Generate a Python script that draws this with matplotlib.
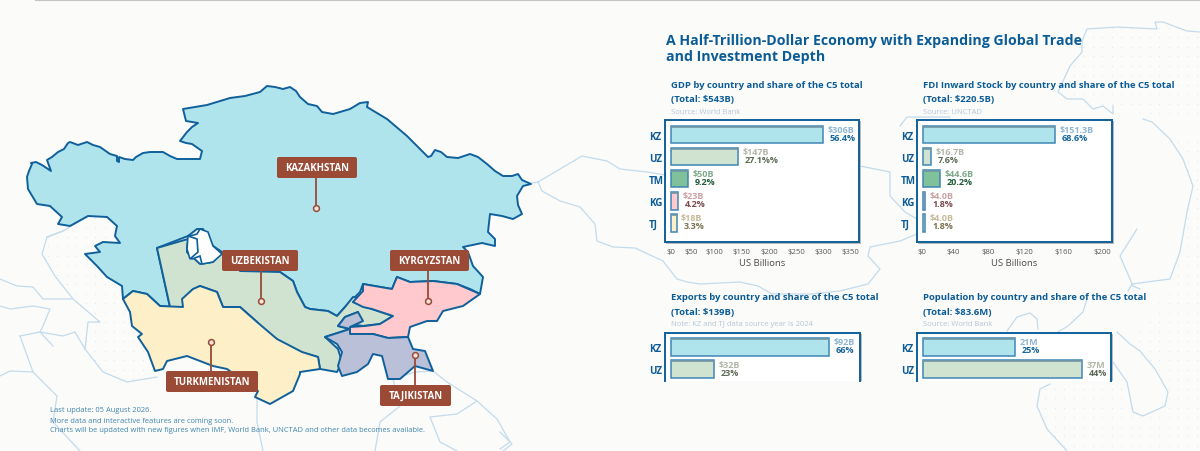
import numpy as np
import matplotlib
matplotlib.use("Agg")
import matplotlib.pyplot as plt
from matplotlib.patches import Polygon, FancyBboxPatch, Rectangle

plt.rcParams['font.family'] = ['Open Sans', 'DejaVu Sans']

BG = '#fbfbfa'
EDGE = '#0f609b'
NAVY = '#0b5c96'
LINE = '#c3dbeb'
BROWN = '#9a4a35'

codes = ['KZ', 'UZ', 'TM', 'KG', 'TJ']
fills = ['#afe4ec', '#d0e2d0', '#80c09a', '#ffc9ce', '#fdf0c8']
tints = ['#8fb6d3', '#b2b7aa', '#7fa98c', '#cba3a3', '#c6ba9b']
darks = ['#14659c', '#5d6a55', '#1f5c38', '#7a4a52', '#7a7350']

gdp_bar = [298, 131, 33, 13, 11]
gdp_value = ['$306B', '$147B', '$50B', '$23B', '$18B']
gdp_share = ['56.4%', '27.1%%', '9.2%', '4.2%', '3.3%']
gdp_ticks = [-1, 39, 86, 139, 192, 245, 298, 351]
gdp_ticklabels = ['$0', '$50', '$100', '$150', '$200', '$250', '$300', '$350']

fdi_bar = [146.7, 8.5, 18.5, 2.5, 2.5]
fdi_value = ['$151.3B', '$16.7B', '$44.6B', '$4.0B', '$4.0B']
fdi_share = ['68.6%', '7.6%', '20.2%', '1.8%', '1.8%']
fdi_ticks = [-1, 34, 72, 113, 156, 199]
fdi_ticklabels = ['$0', '$40', '$80', '$120', '$160', '$200']

exp_bar = [92, 25]
exp_value = ['$92B', '$32B']
exp_share = ['66%', '23%']

pop_bar = [21, 36.3]
pop_value = ['21M', '37M']
pop_share = ['25%', '44%']

# map geometry, in image pixels
kazakhstan = [(27,178),(29,172),(32,165),(31,164),(36,163),(42,166),(51,172),(47,161),(52,158),(58,153),(64,150),(68,144),(70,143),(78,146),(87,143),
 (93,146),(100,148),(110,155),(117,157),(117,162),(119,163),(119,158),(125,160),(133,161),(136,158),(143,154),(150,153),(163,153),(170,157),(177,160),
 (190,160),(200,160),(202,152),(192,145),(186,144),(180,142),(187,133),(192,128),(198,124),(186,122),(185,118),(183,110),(207,106),(230,99),(245,97),(260,93),
 (267,87),(275,88),(283,90),(290,88),(296,92),(300,98),(308,105),(317,107),(322,113),(333,115),(340,113),(350,110),(360,104),(368,103),(367,108),(387,120),(407,137),
 (420,150),(428,158),(431,157),(435,151),(441,153),(447,158),(458,159),(470,155),(478,158),(487,165),(495,172),(503,177),(512,177),(518,175),(522,181),(531,185),(523,187),(517,197),(518,206),(522,215),(513,220),
 (502,217),(490,215),(488,233),(495,240),(495,247),(482,244),(463,248),(468,253),(473,267),(483,278),(480,295),(470,290),(457,285),(433,282),
 (410,283),(397,278),(392,290),(363,285),(360,293),(345,308),(337,317),(328,312),(310,310),(305,308),(297,293),(293,282),(280,273),
 (240,272),(222,253),(213,247),(203,230),(197,230),(188,237),(157,249),(170,308),(160,307),(147,295),(133,292),
 (123,300),(122,287),(107,278),(97,267),(85,255),(100,253),(95,247),(103,243),(120,244),(115,237),(117,227),(107,218),
 (88,217),(70,227),(58,225),(62,218),(50,207),(37,205),(28,190)]
uzbekistan = [(157,249),(188,240),(187,253),(200,265),(213,263),(222,253),(240,272),(280,273),(293,282),(297,293),
 (305,308),(310,310),(328,312),(337,317),(345,308),(353,298),(363,300),(353,303),(372,310),(393,317),(380,325),(363,327),(350,325),
 (358,313),(345,318),(338,327),(350,330),(325,338),(338,350),(342,363),(337,373),(320,370),(318,358),(300,353),
 (277,347),(257,323),(240,308),(223,308),(217,293),(200,287),(192,291),(183,300),(183,308),(170,308)]
turkmenistan = [(123,300),(133,292),(147,295),(160,307),(183,308),(182,300),(193,290),(200,287),(217,293),(223,308),
 (240,308),(257,323),(277,340),(302,353),(318,358),(320,370),(300,373),(300,375),(293,392),(270,405),(255,398),
 (258,392),(227,370),(213,367),(187,357),(167,362),(163,370),(155,372),(148,353),(138,338),(142,335),(132,327),
 (130,313)]
kyrgyzstan = [(363,285),(392,290),(397,278),(410,283),(433,282),(457,285),(480,295),(463,307),(443,312),(437,322),
 (427,322),(410,328),(408,338),(388,339),(373,335),(350,335),(350,328),(365,327),(380,325),(393,317),(372,310),
 (363,308),(353,303),(363,292)]
tajikistan = [(325,338),(350,330),(338,327),(345,318),(358,313),(363,322),(350,328),(350,335),(373,335),(388,339),
 (408,338),(413,350),(425,352),(433,372),(415,367),(400,380),(388,380),(382,357),(373,355),(368,365),(357,373),
 (342,377),(338,367),(342,353),(337,345)]
aral_water = [(188,240),(187,253),(192,260),(200,257),(202,265),(213,263),(222,255),(213,247),(208,233),(200,230),
 (197,235),(190,237)]
aral_west = [(188,237),(197,240),(198,253),(190,260),(187,250)]

caspian_outline = [(63,232),(47,238),(42,255),(55,277),(73,300),(100,323),(88,323),(85,350),(103,373),(127,383),(157,378)]
caspian_area = [(63,232),(88,217),(107,218),(117,227),(115,237),(120,244),(95,247),(100,253),(85,255),(97,267),(107,278),
 (122,287),(123,300),(132,327),(142,335),(148,353),(157,378),(127,383),(103,373),(85,350),(88,323),(100,323),
 (73,300),(55,277),(42,255),(47,238)]
north_sea_area = [(1082,30),(1117,28),(1155,23),(1200,33),(1200,117),(1143,117),(1113,107),(1093,105),(1058,93),(1070,67),(1082,53)]
south_sea_area = [(1170,140),(1200,140),(1200,452),(1067,452),(1047,430),(1037,407),(1040,390),(1113,363),(1127,383),
 (1133,413),(1143,417),(1165,407),(1168,393),(1155,370),(1140,352),(1130,345),(1175,283),(1187,213),(1193,187),(1183,160)]

back_lines = [
 [(532,184),(538,183),(555,173),(582,157),(607,162),(620,170),(647,173),(665,176)],
 [(538,183),(542,192),(560,202),(580,208),(595,225),(597,242),(613,248),(635,249),(663,262),(677,280),(687,283),
  (700,285),(740,283),(758,287),(772,295),(811,295),(840,292),(868,285),(880,270),(868,257),(870,248),(900,242),(917,235)],
 [(860,167),(890,173),(890,197),(905,213),(917,220)],
 [(1200,33),(1187,32),(1163,23),(1155,23),(1157,30),(1117,28),(1087,30),(1082,42),(1082,53),(1070,67),(1058,93),
  (1067,100),(1083,100),(1093,110),(1103,107),(1113,115),(1113,107)],
 [(1143,120),(1152,123),(1170,140),(1183,160),(1193,187),(1187,213),(1180,253),(1170,280),(1147,283),(1132,285),(1128,292)],
 [(1137,230),(1120,257),(1127,273),(1133,287),(1140,290)],
 [(1117,333),(1130,345),(1140,352),(1155,370),(1168,393),(1165,407),(1143,417),(1133,413),(1127,383),(1113,363)],
 [(1050,385),(1040,390),(1037,407),(1047,430),(1067,452)],
 [(1087,300),(1083,313),(1068,327),(1058,333)],
 [(1007,332),(1017,318),(1030,314),(1037,320),(1038,330)],
 [(47,238),(63,232),(88,217)],
 caspian_outline,
 [(0,280),(17,287),(33,288),(43,300),(72,300)],
 [(0,307),(10,310),(33,307),(50,310),(43,327),(40,333),(53,347)],
 [(20,337),(33,373),(57,397),(53,423),(80,452)],
 [(0,377),(10,372),(33,373)],
 [(20,337),(40,333),(63,337),(75,333),(85,350)],
 [(257,400),(257,423),(263,452)],
 [(393,380),(415,373),(433,372),(447,383),(477,402),(497,420),(510,443),(500,450)],
 [(477,402),(457,415),(430,418),(440,443),(457,452)],
 [(393,380),(400,407),(380,423),(375,452)],
 [(500,433),(512,445),(503,452)],
 [(900,127),(907,118),(950,118)],
]

names = ['KAZAKHSTAN', 'UZBEKISTAN', 'KYRGYZSTAN', 'TURKMENISTAN', 'TAJIKISTAN']
tag_boxes = [(277,158,80,21), (222,251,76,21), (390,251,79,21), (166,372,92,21), (380,386,71,21)]
tag_pins = [(315.5,208.5), (260.5,301.5), (428,301.5), (211,342.5), (415,356)]

title_lines = ['A Half-Trillion-Dollar Economy with Expanding Global Trade', 'and Investment Depth']
foot_lines = ['Last update: 05 August 2026.', 'More data and interactive features are coming soon.',
              'Charts will be updated with new figures when IMF, World Bank, UNCTAD and other data becomes available.']

fig = plt.figure(figsize=(12, 4.52), dpi=100, facecolor=BG)
ax = fig.add_axes([0, 0, 1, 1])
ax.set_xlim(0, 1200)
ax.set_ylim(452, 0)
ax.axis('off')

ax.plot([36, 1200], [0.5, 0.5], color='#c4c4c4', lw=1.5, zorder=1)

gx, gy = np.meshgrid(np.arange(0, 1200, 9.5), np.arange(0, 452, 9.5))
for area in (caspian_area, north_sea_area, south_sea_area):
    clip = Polygon(area, closed=True, transform=ax.transData, fc='none', ec='none')
    ax.add_patch(clip)
    dots = ax.scatter(gx.ravel(), gy.ravel(), s=0.8, color='#e3e9ee', lw=0, zorder=1)
    dots.set_clip_path(clip)

for line in back_lines:
    xs, ys = zip(*line)
    ax.plot(xs, ys, color=LINE, lw=0.9, zorder=2, solid_joinstyle='round')

for poly, col in [(kazakhstan, '#afe4ec'), (uzbekistan, '#d0e2d0'), (turkmenistan, '#fdf0c8'),
                  (kyrgyzstan, '#ffc9ce'), (tajikistan, '#b9c0d8')]:
    ax.add_patch(Polygon(poly, closed=True, fc=col, ec=EDGE, lw=1.4, joinstyle='round', zorder=3))
ax.add_patch(Polygon(aral_water, closed=True, fc='white', ec=EDGE, lw=1.2, zorder=4))
ax.add_patch(Polygon(aral_west, closed=True, fc='white', ec=EDGE, lw=1.2, zorder=4))

for name, (x, y, w, h), (px, py) in zip(names, tag_boxes, tag_pins):
    ax.plot([px, px], [py, y + h / 2], color=BROWN, lw=1.3, zorder=5)
    ax.plot([px], [py], 'o', ms=4.2, mfc='#f4e4dc', mec=BROWN, mew=1.1, zorder=6)
    ax.add_patch(FancyBboxPatch((x + 1, y + 1), w - 2, h - 2, boxstyle='round,pad=1,rounding_size=2',
                                fc=BROWN, ec='none', zorder=7))
    ax.text(x + w / 2, y + h / 2, name, color='white', fontweight='bold', fontsize=6.9,
            ha='center', va='center', zorder=8)

for yy, s in zip((40.5, 56.5), title_lines):
    ax.text(666, yy, s, color=NAVY, fontweight='bold', fontsize=10.15, va='center', zorder=9)
for yy, s in zip((411, 421.5, 431), foot_lines):
    ax.text(50, yy, s, color='#3f86ae', fontsize=5.43, va='center', zorder=9)


def panel(x0, x1, y0, y1, zero_px, px_per_unit, center0, bars, values, shares, ticks=None, ticklabels=None,
          xlabel=None, closed=True, head=(), note=''):
    a = fig.add_axes([x0 / 1200, 1 - y1 / 452, (x1 - x0) / 1200, (y1 - y0) / 452], zorder=5)
    ax.add_patch(Rectangle((x0 + 1, y0 + 1), x1 - x0 + 0.8, y1 - y0 + (0.8 if closed else -1),
                           fc='#b9b9b9', ec='none', zorder=4.5))
    a.set_facecolor('white')
    a.set_xlim((x0 - zero_px) / px_per_unit, (x1 - zero_px) / px_per_unit)
    a.set_ylim((y1 - center0) / 22.1, (y0 - center0) / 22.1)
    ys = np.arange(len(bars))
    a.barh(ys, bars, height=0.79, color=fills[:len(bars)], edgecolor='#3f86b5', linewidth=1.1, zorder=2)
    for i, b in enumerate(bars):
        a.plot([0, b], [i - 0.36, i - 0.36], color='#6f96a4', lw=1.2, solid_capstyle='butt', zorder=3)
        a.annotate(values[i], (b, i), xytext=(4.5, 5), textcoords='offset pixels', color=tints[i],
                   fontweight='bold', fontsize=6.5, va='center', ha='left', zorder=4, annotation_clip=False)
        a.annotate(shares[i], (b, i), xytext=(7, -3), textcoords='offset pixels', color=darks[i],
                   fontweight='bold', fontsize=6.5, va='center', ha='left', zorder=4, annotation_clip=False)
    a.set_yticks(ys)
    a.set_yticklabels(codes[:len(bars)], color=NAVY, fontweight='bold', fontsize=7.0, ha='left')
    a.tick_params(axis='y', length=0, pad=11.5)
    if ticks is not None:
        a.set_xticks(ticks)
        a.set_xticklabels(ticklabels, color='#5a5a55', fontsize=5.6)
        a.tick_params(axis='x', length=0, pad=4.5)
    else:
        a.set_xticks([])
    if xlabel:
        a.set_xlabel(xlabel, color='#4f4a48', fontsize=6.8, labelpad=2.0)
    for side, sp in a.spines.items():
        sp.set_color(EDGE)
        sp.set_linewidth(1.4)
    if not closed:
        a.spines['bottom'].set_visible(False)
    tx = zero_px
    ty = y0 - 35.5
    ax.text(tx, ty, head[0], color=NAVY, fontweight='bold', fontsize=6.8, va='center', zorder=9)
    ax.text(tx, ty + 14.5, head[1], color=NAVY, fontweight='bold', fontsize=6.8, va='center', zorder=9)
    ax.text(tx, ty + 27, note, color='#b3c7d8', fontsize=5.5, va='center', zorder=9)
    return a


panel(665, 859, 120.5, 243, 671, 0.51, 135.5, gdp_bar, gdp_value, gdp_share, gdp_ticks, gdp_ticklabels, 'US Billions',
      head=('GDP by country and share of the C5 total', '(Total: $543B)'), note='Source: World Bank')
panel(917, 1112, 120.5, 243, 923, 0.9, 135.5, fdi_bar, fdi_value, fdi_share, fdi_ticks, fdi_ticklabels, 'US Billions',
      head=('FDI Inward Stock by country and share of the C5 total', '(Total: $220.5B)'), note='Source: UNCTAD')
panel(665, 860, 333.5, 382, 671, 1.717, 348, exp_bar, exp_value, exp_share, closed=False,
      head=('Exports by country and share of the C5 total', '(Total: $139B)'), note='Note: KZ and TJ data source year is 2024')
panel(917, 1111, 333.5, 382, 923, 4.38, 348, pop_bar, pop_value, pop_share, closed=False,
      head=('Population by country and share of the C5 total', '(Total: $83.6M)'), note='Source: World Bank')

fig.savefig('out.png', dpi=100, facecolor=BG)
